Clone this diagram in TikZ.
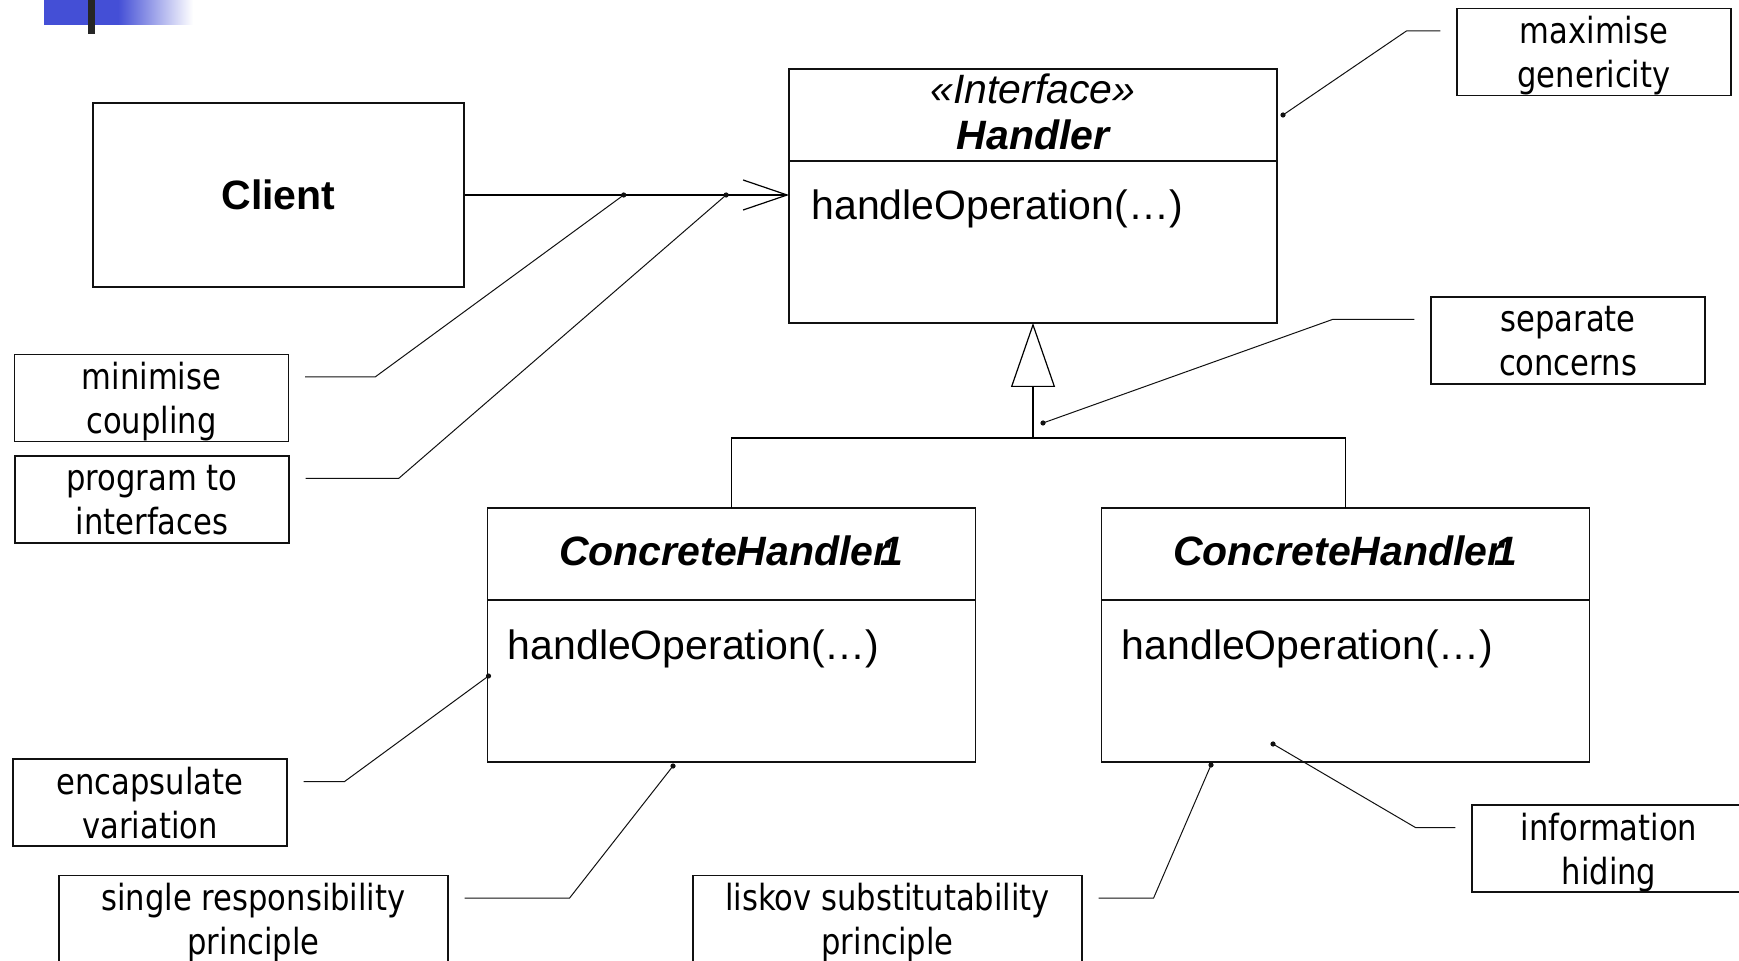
\documentclass[tikz,border=0pt]{standalone}
\usepackage{fontspec}
\setmainfont{Liberation Sans}
\newfontfamily\notefont{DejaVu Sans}[FakeStretch=0.85]
\usetikzlibrary{positioning,arrows.meta,calc}
\definecolor{ink}{HTML}{111111}
\definecolor{barblue}{HTML}{444FD6}

\begin{document}
\begin{tikzpicture}[
  x=0.5pt,y=-0.5pt,
  font=\fontsize{20.5}{23}\selectfont,
  cls/.style={draw=ink,line width=0.85pt,minimum width=244pt,outer sep=0pt,inner sep=0pt},
  ctitle/.style={cls,minimum height=46pt,align=center,text depth=3pt,font=\fontsize{20.5}{23}\selectfont\bfseries\itshape},
  cbody/.style={cls,minimum height=81pt},
  oper/.style={anchor=west,inner sep=0pt},
  note/.style={draw=ink,line width=0.6pt,minimum width=137pt,minimum height=43.5pt,align=center,inner sep=0pt,
    text depth=0pt,font=\notefont\fontsize{18}{22}\selectfont},
  memo/.style={draw=ink,line width=0.5pt},
  >={Straight Barb[length=22pt,width=15pt]}]
  \useasboundingbox (0,0) rectangle (1739,961);
  % slide corner mark
  \fill[barblue] (44,0) rectangle (118,25);
  \shade[left color=barblue,right color=white] (118,0) rectangle (193,25);
  \fill[black!85] (88,0) rectangle (95,34);

  % classes
  \node[draw=ink,line width=0.85pt,minimum width=185.5pt,minimum height=92pt,font=\fontsize{20.5}{23}\selectfont\bfseries] (client) at (278.5,195) {Client};
  \node[ctitle] (hdT) at (1033,115) {{\mdseries«Interface»}\\Handler};
  \node[cbody,below=0pt of hdT] (hdB) {};
  \node[oper] (hdOp) at ($(hdB.north west)+(22,47.5)$) {handleOperation(…)};
  \node[ctitle] (ch1T) at (731.5,554) {ConcreteHandler\kern-0.21em1};
  \node[cbody,below=0pt of ch1T] (ch1B) {};
  \node[oper] (ch1Op) at ($(ch1B.north west)+(20,48.5)$) {handleOperation(…)};
  \node[ctitle] (ch2T) at (1345.5,554) {ConcreteHandler\kern-0.21em1};
  \node[cbody,below=0pt of ch2T] (ch2B) {};
  \node[oper] (ch2Op) at ($(ch2B.north west)+(20,48.5)$) {handleOperation(…)};

  % association and inheritance
  \draw[->,line width=0.6pt] (client.east) -- coordinate[pos=0.49] (mcPin) coordinate[pos=0.806] (piPin) (client.east -| hdB.west);
  \coordinate (jn) at ($(hdB.south)+(0,115)$);
  \draw[line width=0.6pt] (ch1T.north) |- (jn) -| (ch2T.north);
  \draw[line width=0.6pt,-{Triangle[length=32pt,width=22pt,fill=white]}] (jn) -- (hdB.south);

  % principle notes
  \node[note] (mc) at (151.5,398) {minimise\\coupling};
  \node[note] (pi) at (152,499.5) {program to\\interfaces};
  \node[note] (ev) at (150,802.5) {encapsulate\\variation};
  \node[note,minimum width=194.5pt] (sr) at (253.5,919) {single responsibility\\principle};
  \node[note,minimum width=194.5pt] (ls) at (887.5,919) {liskov substitutability\\principle};
  \node[note] (ih) at (1609,848.5) {information\\hiding};
  \node[note] (sc) at (1568,340.5) {separate\\concerns};
  \node[note] (mg) at (1594,52) {maximise\\genericity};

  \coordinate (evPin) at ($(ch1B.west)+(1,-5)$);
  \coordinate (srPin) at ($(ch1B.south)+(-58.5,4)$);
  \coordinate (lsPin) at ($(ch2B.south)+(-134.5,3)$);
  \coordinate (ihPin) at ($(ch2B.south)+(-72.5,-18)$);
  \coordinate (scPin) at ($(jn)+(10,-15)$);
  \coordinate (mgPin) at ($(hdT.east)+(6,0)$);

  \draw[memo] ([shift={(8pt,10.5pt)}]mc.east) -- ++(70,0) -- (mcPin);
  \draw[memo] ([shift={(8pt,10.5pt)}]pi.east) -- ++(93,0) -- (piPin);
  \draw[memo] ([shift={(8pt,10.5pt)}]ev.east) -- ++(41,0) -- (evPin);
  \draw[memo] ([shift={(8pt,10.5pt)}]sr.east) -- ++(105,0) -- (srPin);
  \draw[memo] ([shift={(8pt,10.5pt)}]ls.east) -- ++(55,0) -- (lsPin);
  \draw[memo] ([shift={(-8pt,10.5pt)}]ih.west) -- ++(-40,0) -- (ihPin);
  \draw[memo] ([shift={(-8pt,10.5pt)}]sc.west) -- ++(-82,0) -- (scPin);
  \draw[memo] ([shift={(-8pt,10.5pt)}]mg.west) -- ++(-34,0) -- (mgPin);
  \foreach \p in {mcPin,piPin,evPin,srPin,lsPin,ihPin,scPin,mgPin}
    \fill[ink] (\p) circle (1.3pt);
\end{tikzpicture}
\end{document}
